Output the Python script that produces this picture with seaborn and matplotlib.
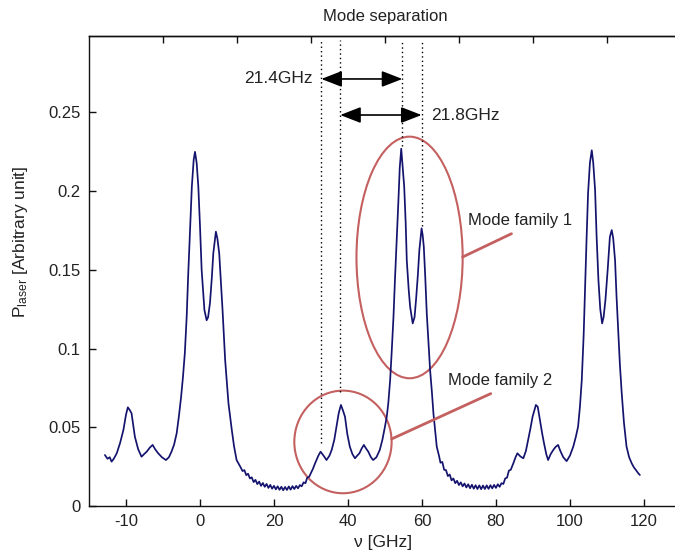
import matplotlib
matplotlib.use("Agg")
import matplotlib.pyplot as plt
from matplotlib.patches import Ellipse, FancyArrowPatch
import numpy as np
import pandas as pd
import seaborn as sns

# Measured laser output spectrum
freq = [
    -25.7, -25.0, -24.4, -23.9, -23.3, -22.5, -21.6, -20.7, -20.0, -19.5,
    -19.0, -18.5, -17.6, -16.7, -15.8, -15.1, -14.4, -13.6, -12.8, -12.1,
    -11.3, -10.3, -9.2, -8.4, -7.7, -7.0, -6.3, -5.7, -5.1, -4.6,
    -4.1, -3.6, -3.2, -2.7, -2.2, -1.7, -1.35, -0.9, -0.45, 0.0,
    0.45, 1.2, 1.8, 2.2, 2.7, 3.2, 3.6, 4.3, 4.7, 5.2,
    5.6, 6.1, 6.8, 7.7, 8.6, 9.2, 9.9,
    11.0, 11.5, 12.0, 12.5, 13.0, 13.5, 14.0, 14.5, 15.0, 15.5,
    16.0, 16.5, 17.0, 17.5, 18.0, 18.5, 19.0, 19.5, 20.0, 20.5,
    21.0, 21.5, 22.0, 22.5, 23.0, 23.5, 24.0, 24.5, 25.0, 25.5,
    26.0, 26.5, 27.0, 27.5, 28.0, 28.5, 29.0, 29.5, 30.0,
    30.6, 31.0, 31.5, 32.0, 32.6, 33.4, 34.2, 35.0, 35.6, 36.3,
    36.9, 37.5, 38.1, 38.6, 39.2, 39.8, 40.5, 41.2, 41.9, 42.5,
    43.1, 43.7, 44.3, 44.9, 45.5, 46.2, 46.8, 47.7, 48.6, 49.3,
    50.0, 50.5, 50.9, 51.4, 51.8, 52.3, 52.7, 53.2, 53.6, 54.0,
    54.4, 54.8, 55.2, 55.6, 55.9, 56.4, 56.8, 57.5, 58.0, 58.4,
    58.9, 59.3, 59.9, 60.2, 60.5, 60.9, 61.3, 61.8, 62.2, 62.7,
    63.1, 63.6, 64.0,
    64.6, 65.0, 65.5, 66.0, 66.5, 67.0, 67.5, 68.0, 68.5, 69.0,
    69.5, 70.0, 70.5, 71.0, 71.5, 72.0, 72.5, 73.0, 73.5, 74.0,
    74.5, 75.0, 75.5, 76.0, 76.5, 77.0, 77.5, 78.0, 78.5, 79.0,
    79.5, 80.0, 80.5, 81.0, 81.5, 82.0, 82.5, 83.0, 83.5, 84.0,
    84.7, 85.3, 85.8, 86.6, 87.4, 88.1, 88.7, 89.3, 89.9, 90.8,
    91.3, 91.9, 92.5, 93.0, 93.6, 94.1, 94.8, 95.5, 96.1, 96.8,
    97.4, 98.2, 99.1, 100.0, 100.9, 101.6, 102.2, 102.7, 103.2, 103.7,
    104.1, 104.5, 104.9, 105.4, 105.9, 106.3, 106.8, 107.2, 107.7, 108.2,
    108.7, 109.1, 109.6, 110.2, 110.8, 111.3, 111.7, 112.2, 112.6, 113.1,
    113.5, 114.0, 114.6, 115.3, 116.0, 116.7, 117.3, 117.8, 118.4, 118.9,
]
power = [
    0.0324, 0.0300, 0.0310, 0.0282, 0.0300, 0.0335, 0.0400, 0.0483, 0.0580, 0.0627,
    0.0610, 0.0589, 0.0440, 0.0360, 0.0313, 0.0330, 0.0345, 0.0370, 0.0388, 0.0360,
    0.0335, 0.0310, 0.0292, 0.0310, 0.0345, 0.0390, 0.0462, 0.0570, 0.0694, 0.0820,
    0.0970, 0.1200, 0.1460, 0.1750, 0.2030, 0.2200, 0.2250, 0.2180, 0.2030, 0.1780,
    0.1500, 0.1245, 0.1180, 0.1200, 0.1290, 0.1450, 0.1605, 0.1743, 0.1700, 0.1605,
    0.1450, 0.1245, 0.0928, 0.0652, 0.0483, 0.0380, 0.0292,
    0.0245, 0.0222, 0.0228, 0.0196, 0.0205, 0.0175, 0.0182, 0.0152, 0.0166, 0.0139,
    0.0155, 0.0128, 0.0146, 0.0122, 0.0140, 0.0115, 0.0134, 0.0110, 0.0128, 0.0106,
    0.0125, 0.0103, 0.0122, 0.0100, 0.0121, 0.0102, 0.0124, 0.0104, 0.0126, 0.0108,
    0.0128, 0.0112, 0.0133, 0.0125, 0.0150, 0.0145, 0.0180, 0.0185, 0.0210,
    0.0240, 0.0265, 0.0292, 0.0320, 0.0345, 0.0320, 0.0292, 0.0320, 0.0356, 0.0420,
    0.0504, 0.0590, 0.0642, 0.0610, 0.0567, 0.0460, 0.0377, 0.0330, 0.0303, 0.0320,
    0.0335, 0.0365, 0.0388, 0.0365, 0.0345, 0.0310, 0.0292, 0.0310, 0.0356, 0.0420,
    0.0504, 0.0570, 0.0652, 0.0800, 0.0970, 0.1200, 0.1436, 0.1700, 0.1920, 0.2150,
    0.2270, 0.2150, 0.2030, 0.1800, 0.1560, 0.1380, 0.1266, 0.1160, 0.1200, 0.1310,
    0.1470, 0.1626, 0.1764, 0.1720, 0.1647, 0.1450, 0.1224, 0.1030, 0.0864, 0.0720,
    0.0589, 0.0470, 0.0377,
    0.0320, 0.0275, 0.0280, 0.0230, 0.0228, 0.0190, 0.0200, 0.0163, 0.0175, 0.0145,
    0.0160, 0.0133, 0.0150, 0.0125, 0.0143, 0.0118, 0.0138, 0.0113, 0.0135, 0.0110,
    0.0132, 0.0108, 0.0131, 0.0107, 0.0130, 0.0108, 0.0131, 0.0109, 0.0132, 0.0112,
    0.0134, 0.0115, 0.0138, 0.0122, 0.0145, 0.0140, 0.0175, 0.0180, 0.0225, 0.0230,
    0.0271, 0.0310, 0.0335, 0.0315, 0.0303, 0.0350, 0.0419, 0.0490, 0.0567, 0.0642,
    0.0630, 0.0546, 0.0460, 0.0398, 0.0330, 0.0292, 0.0330, 0.0356, 0.0375, 0.0388,
    0.0350, 0.0310, 0.0285, 0.0320, 0.0377, 0.0440, 0.0504, 0.0630, 0.0800, 0.1080,
    0.1390, 0.1700, 0.1986, 0.2180, 0.2260, 0.2180, 0.2008, 0.1720, 0.1436, 0.1250,
    0.1160, 0.1200, 0.1310, 0.1500, 0.1710, 0.1753, 0.1700, 0.1560, 0.1330, 0.1097,
    0.0900, 0.0716, 0.0530, 0.0377, 0.0310, 0.0271, 0.0245, 0.0230, 0.0210, 0.0197,
]

# Axis ticks
xtick_pos = [-20, 0, 20, 40, 60, 80, 100, 120]
xtick_labels = ["-10", "0", "20", "40", "60", "80", "100", "120"]
xtick_top = [-10, 10, 30, 50, 70, 90, 110]
ytick_pos = [0, 0.05, 0.10, 0.15, 0.20, 0.25]
ytick_labels = ["0", "0.05", "0.1", "0.15", "0.2", "0.25"]

# Mode positions used for the separation markers
mode_lines = [32.8, 37.9, 54.7, 59.9]
mode_line_ends = [0.040, 0.0726, 0.229, 0.178]
sep_a = (32.8, 54.7)   # 21.4 GHz
sep_b = (37.9, 59.9)   # 21.8 GHz

sns.set_theme(style="white")
plt.rcParams["font.family"] = ["Liberation Sans", "DejaVu Sans"]
plt.rcParams["mathtext.fontset"] = "custom"
plt.rcParams["mathtext.rm"] = "Liberation Sans"
plt.rcParams.update({
    "xtick.bottom": True, "xtick.top": False, "ytick.left": True,
    "ytick.right": False, "xtick.direction": "in", "ytick.direction": "in",
    "xtick.major.size": 5, "ytick.major.size": 5,
    "xtick.major.width": 1, "ytick.major.width": 1,
    "xtick.color": "#111111", "ytick.color": "#111111",
})

W, H = 675, 558
fig = plt.figure(figsize=(W / 100, H / 100), dpi=100)
ax = fig.add_axes([89 / W, 1 - 506 / H, 1 - 89 / W, (506 - 36) / H])

df = pd.DataFrame({"freq": freq, "power": power})
sns.lineplot(data=df, x="freq", y="power", ax=ax, color="#14146e",
             linewidth=1.25, estimator=None, sort=False)

ax.set_xlim(-30, 128.4)
ax.set_ylim(0, 0.2986)
ax.set_xticks(xtick_pos)
ax.set_xticklabels(xtick_labels)
ax.set_yticks(ytick_pos)
ax.set_yticklabels(ytick_labels)
ax.tick_params(axis="both", which="major", direction="in", length=5, width=1,
               labelsize=12, color="#111111", labelcolor="#222222", pad=6,
               bottom=True, left=True, top=False, right=False)
ax.set_xlabel("")
ax.set_ylabel("")

for s in ["left", "bottom", "top"]:
    ax.spines[s].set_visible(True)
    ax.spines[s].set_color("#111111")
    ax.spines[s].set_linewidth(1.0)
ax.spines["right"].set_visible(False)

sec = ax.secondary_xaxis("top")
sec.set_xticks(xtick_top)
sec.tick_params(axis="x", direction="in", length=5, width=1, top=True,
                labeltop=False, color="#111111")
sec.spines["top"].set_linewidth(1.0)
sec.spines["top"].set_color("#111111")

# Dotted markers at the mode positions
for xv, yend in zip(mode_lines, mode_line_ends):
    ax.plot([xv, xv], [yend, 0.296], color="black", linestyle=(0, (1, 2.2)),
            linewidth=1.0)

# Double-headed separation arrows
for (x0, x1), yv in [(sep_a, 0.2713), (sep_b, 0.2484)]:
    arr = FancyArrowPatch((x0, yv), (x1, yv),
                          arrowstyle="<|-|>,head_length=0.9,head_width=0.35",
                          mutation_scale=14, color="black", linewidth=1.2,
                          shrinkA=0, shrinkB=0)
    ax.add_patch(arr)
ax.text(30.5, 0.2713, "21.4GHz", ha="right", va="center", fontsize=12.5,
        color="#222222")
ax.text(62.4, 0.2484, "21.8GHz", ha="left", va="center", fontsize=12.5,
        color="#222222")

# Mode family highlights
red = "#c46060"
ax.add_patch(Ellipse((56.65, 0.1579), 28.7, 0.1535, fill=False,
                     edgecolor=red, linewidth=1.5))
ax.add_patch(Ellipse((38.65, 0.0407), 26.3, 0.0652, fill=False,
                     edgecolor=red, linewidth=1.5))
ax.plot([71.0, 84.2], [0.1582, 0.1730], color=red, linewidth=2)
ax.plot([51.8, 78.6], [0.0426, 0.0714], color=red, linewidth=2)
ax.text(72.5, 0.1817, "Mode family 1", ha="left", va="center", fontsize=12,
        color="#222222")
ax.text(67.1, 0.0800, "Mode family 2", ha="left", va="center", fontsize=12,
        color="#222222")

fig.text(385 / W, 1 - 16 / H, "Mode separation", ha="center", va="center",
         fontsize=12, color="#222222")
fig.text(383 / W, 1 - 543 / H, "\u03bd [GHz]", ha="center", va="center",
         fontsize=12.5, color="#222222")
fig.text(21 / W, 1 - 242 / H, r"$\mathregular{P_{laser}}$ [Arbitrary unit]",
         ha="center", va="center", rotation=90, fontsize=12.5, color="#222222")

fig.savefig("out.png", dpi=100)
